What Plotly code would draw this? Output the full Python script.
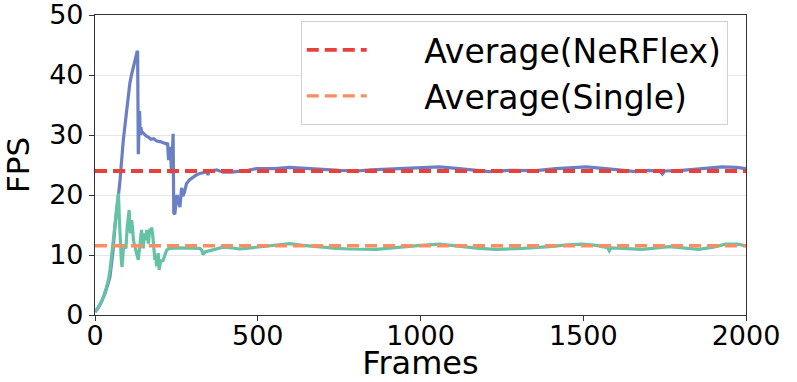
import plotly.graph_objects as go

# NeRFlex FPS over frames
nerflex_frames = [0, 10, 20, 30, 40, 46, 55, 61, 70, 77, 87, 97, 107, 112, 118, 122, 126, 128, 130, 131,
                  133, 135, 137, 139, 141, 143, 150, 158, 165, 172, 180, 190, 200, 210, 220, 223, 226, 229,
                  232, 235, 238, 240, 242, 245, 252, 257, 261, 266, 270, 275, 281, 290, 301, 310, 322, 335,
                  345, 347, 350, 373, 394, 420, 445, 470, 496, 550, 598, 649, 700, 750, 802, 848, 935, 1000,
                  1058, 1119, 1170, 1211, 1273, 1355, 1416, 1460, 1508, 1569, 1620, 1661, 1700, 1735, 1743,
                  1750, 1794, 1855, 1927, 1970, 2000]
nerflex_fps = [0.5, 1.2, 2.2, 3.5, 5.2, 6.4, 10.5, 14.7, 19.0, 22.5, 29.2, 34.2, 38.6, 40.0, 41.4, 42.0, 42.8,
               43.2, 44.0, 43.8, 26.8, 31.0, 34.0, 30.0, 31.3, 30.6, 30.2, 29.8, 29.6, 29.3, 29.4, 29.0, 28.9,
               28.7, 28.5, 28.7, 25.8, 28.0, 27.5, 23.6, 28.5, 30.2, 17.0, 16.8, 20.0, 18.5, 18.0, 21.2, 19.8,
               20.5, 21.9, 22.5, 23.0, 23.3, 23.6, 23.8, 23.9, 23.3, 23.9, 24.2, 23.8, 23.8, 23.9, 24.1, 24.4,
               24.4, 24.6, 24.4, 24.3, 24.1, 24.0, 24.2, 24.4, 24.6, 24.7, 24.4, 24.1, 23.9, 24.1, 24.05, 24.4,
               24.6, 24.7, 24.4, 24.1, 23.9, 24.1, 24.0, 23.5, 24.0, 24.05, 24.4, 24.7, 24.6, 24.4]

# Single model FPS over frames
single_frames = [0, 10, 20, 26, 35, 41, 46, 51, 56, 61, 66, 70, 72, 75, 77, 79, 81, 83, 85, 87, 91, 95, 99,
                 102, 105, 107, 109, 111, 113, 116, 118, 122, 126, 130, 133, 136, 138, 141, 143, 146, 148,
                 151, 153, 156, 159, 162, 164, 167, 169, 172, 174, 177, 179, 182, 184, 187, 189, 192, 194,
                 196, 197, 200, 203, 205, 208, 212, 216, 220, 225, 230, 260, 291, 322, 328, 332, 338, 353,
                 372, 394, 420, 445, 480, 517, 560, 598, 639, 670, 700, 740, 782, 864, 945, 1000, 1058, 1129,
                 1180, 1232, 1314, 1396, 1450, 1498, 1540, 1575, 1580, 1586, 1630, 1682, 1764, 1810, 1855,
                 1900, 1937, 1975, 2000]
single_fps = [0.6, 1.3, 2.3, 3.0, 4.6, 5.8, 7.5, 9.7, 12.0, 14.7, 17.5, 19.5, 20.3, 15.8, 12.5, 10.3, 9.0,
              8.0, 9.5, 10.8, 11.5, 11.1, 14.7, 16.5, 17.5, 15.0, 13.6, 15.2, 15.8, 14.0, 12.5, 11.5, 10.3,
              9.8, 9.2, 11.0, 12.5, 13.8, 14.2, 12.2, 11.1, 12.8, 13.6, 12.5, 14.2, 13.0, 11.9, 13.6, 14.4,
              13.8, 14.6, 13.5, 12.5, 10.8, 9.2, 9.8, 8.1, 9.5, 10.3, 8.8, 7.5, 8.5, 8.8, 9.2, 8.9, 9.7, 10.4,
              10.8, 11.0, 11.1, 11.2, 11.2, 11.1, 10.8, 10.1, 10.5, 10.7, 11.0, 11.3, 11.2, 11.0, 11.2, 11.4,
              11.7, 11.9, 11.6, 11.4, 11.3, 11.1, 11.0, 10.95, 11.4, 11.6, 11.8, 11.4, 11.1, 10.95, 11.1, 11.4,
              11.7, 11.8, 11.6, 11.2, 10.7, 11.2, 11.1, 10.95, 11.4, 11.2, 10.95, 11.3, 11.8, 11.8, 11.5]

avg_range = [0, 2000]
avg_nerflex = 24.0
avg_single = 11.55

x_ticks = [0, 500, 1000, 1500, 2000]
y_ticks = [0, 10, 20, 30, 40, 50]

font = "DejaVu Sans"
pad = "\u00a0" * 5  # gap between legend line and label

fig = go.Figure()

fig.add_trace(go.Scatter(x=nerflex_frames, y=nerflex_fps, mode='lines',
                         line=dict(color='#6a7fc4', width=3.2), showlegend=False))
fig.add_trace(go.Scatter(x=single_frames, y=single_fps, mode='lines',
                         line=dict(color='#66c2a5', width=3.2), showlegend=False))

fig.add_trace(go.Scatter(x=avg_range, y=[avg_nerflex] * 2, mode='lines', name=pad + 'Average(NeRFlex)',
                         line=dict(color='#e8403a', width=3.8, dash='12px,6px')))
fig.add_trace(go.Scatter(x=avg_range, y=[avg_single] * 2, mode='lines', name=pad + 'Average(Single)',
                         line=dict(color='#fc8d62', width=3.4, dash='12px,6px')))

fig.update_layout(
    width=797, height=382,
    margin=dict(l=95, r=51, t=15, b=67),
    plot_bgcolor='white', paper_bgcolor='white',
    font=dict(family=font, color='black'),
    legend=dict(
        x=0.972, y=0.98, xanchor='right', yanchor='top',
        font=dict(size=33, family=font),
        bgcolor='white', bordercolor='#d0d0d0', borderwidth=1,
        itemwidth=60, tracegroupgap=0,
    ),
)

fig.update_xaxes(
    range=[0, 2000], tickvals=x_ticks, ticks='outside', ticklen=5, tickcolor='#333',
    tickfont=dict(size=27), showgrid=False, zeroline=False, automargin=False,
    ticklabeloverflow='allow', ticklabelstandoff=-9,
    showline=True, linecolor='#333', linewidth=1.2, mirror=True,
    title=dict(text='Frames', font=dict(size=32), standoff=3),
)
fig.update_yaxes(
    range=[0, 50], tickvals=y_ticks, ticks='outside', ticklen=5, tickcolor='#333',
    tickfont=dict(size=27), showgrid=True, gridcolor='#e6e6e6', gridwidth=1, zeroline=False,
    automargin=False, ticklabeloverflow='allow',
    showline=True, linecolor='#333', linewidth=1.2, mirror=True,
    title=dict(text='FPS', font=dict(size=31), standoff=10),
)

# drop the page's default body margin so the figure sits at the window's corner
fig.write_html("out.html", config={'displayModeBar': False},
               post_script="document.body.style.margin='0';")
